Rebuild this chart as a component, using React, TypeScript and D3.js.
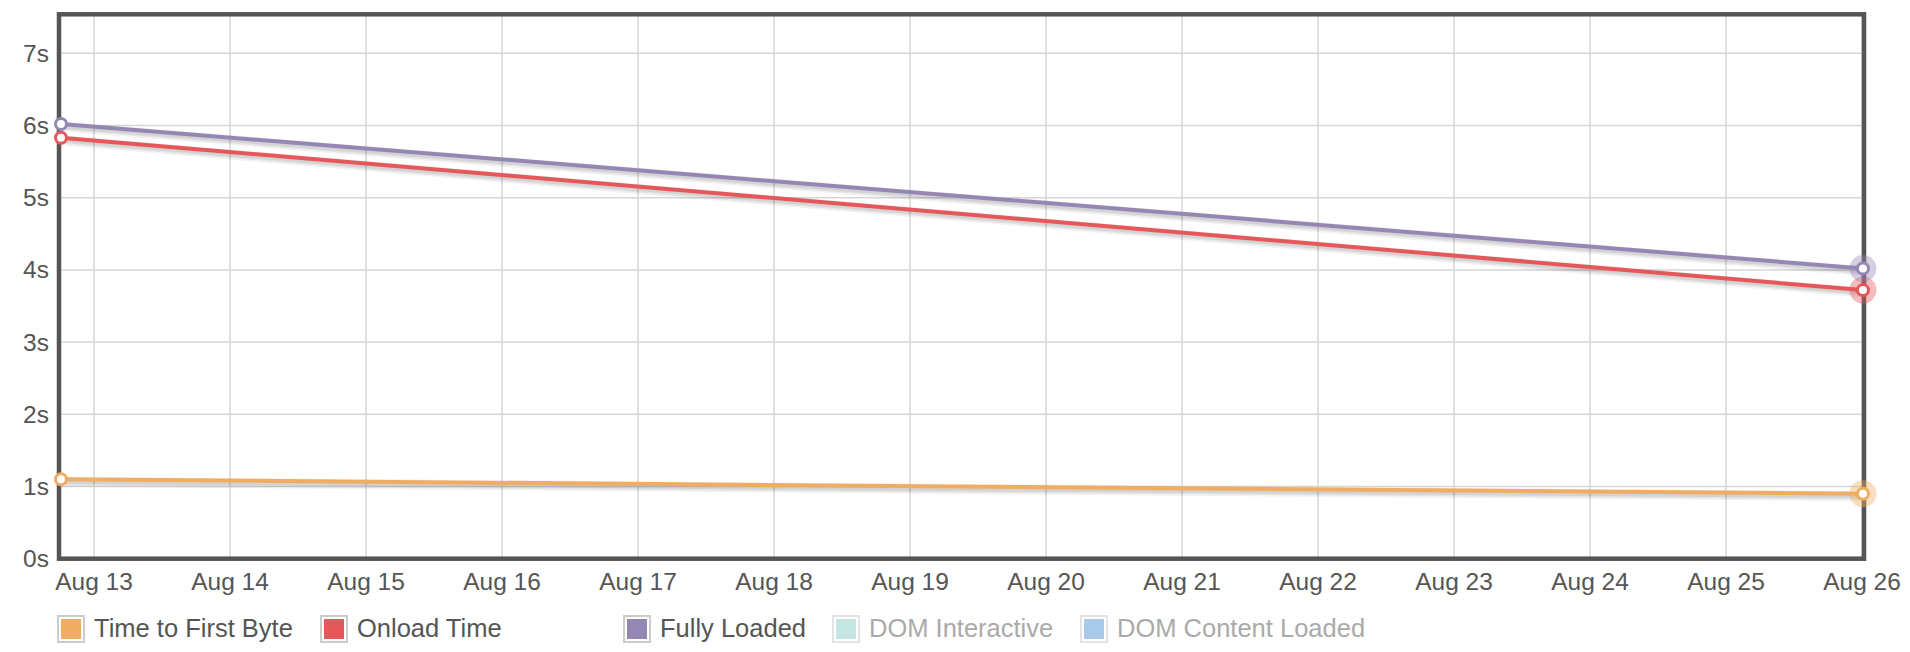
import React from "react";
import * as d3 from "d3";

const seriesNames = ["Time to First Byte", "Onload Time", "Fully Loaded", "DOM Interactive", "DOM Content Loaded"];
const seriesColors = ["#f0ac60", "#e4575a", "#9587b4", "#c4e7e4", "#a9c9e9"];
const seriesActive = [true, true, true, false, false];
const pointDates = [new Date(2019, 7, 12, 18, 10), new Date(2019, 7, 26, 0, 10)];
const ttfbValues = [1.1, 0.9];
const onloadValues = [5.83, 3.72];
const fullyLoadedValues = [6.02, 4.02];
const yTicks = [0, 1, 2, 3, 4, 5, 6, 7];
const xTickDays = [13, 14, 15, 16, 17, 18, 19, 20, 21, 22, 23, 24, 25, 26];

const W = 1910;
const H = 652;
const left = 59;
const right = 1864;
const top = 14.3;
const bottom = 558.7;
const FONT = "'Liberation Sans', Arial, Helvetica, sans-serif";

export default function App() {
  const x = d3
    .scaleTime()
    .domain([new Date(2019, 7, 12, 17, 49), new Date(2019, 7, 26, 0, 21)])
    .range([left, right]);
  const y = d3.scaleLinear().domain([0, 7.54]).range([bottom, top]);

  const lineGen = d3
    .line<[Date, number]>()
    .x((d) => x(d[0]))
    .y((d) => y(d[1]));

  const series = [
    { name: seriesNames[0], color: seriesColors[0], values: ttfbValues },
    { name: seriesNames[1], color: seriesColors[1], values: onloadValues },
    { name: seriesNames[2], color: seriesColors[2], values: fullyLoadedValues },
  ];

  const legendX = [57, 320, 623, 832, 1080];

  return (
    <svg
      width={W}
      height={H}
      style={{ position: "absolute", left: 0, top: 0, background: "#fff" }}
      fontFamily={FONT}
    >
      {/* grid */}
      {yTicks.filter((t) => t > 0).map((t) => (
        <line key={"gy" + t} x1={left} x2={right} y1={y(t)} y2={y(t)} stroke="#d6d6d6" strokeWidth={1.5} />
      ))}
      {xTickDays.map((d) => {
        const xx = x(new Date(2019, 7, d));
        return <line key={"gx" + d} x1={xx} x2={xx} y1={top} y2={bottom} stroke="#d6d6d6" strokeWidth={1.5} />;
      })}

      {/* shadows */}
      {series.map((s, i) => {
        const data = pointDates.map((dt, j) => [dt, s.values[j]] as [Date, number]);
        const p = lineGen(data) || "";
        return (
          <g key={"sh" + i} transform="translate(1,2.5)" fill="none" strokeLinecap="round">
            <path d={p} stroke="#000" strokeOpacity={0.05} strokeWidth={10} />
            <path d={p} stroke="#000" strokeOpacity={0.06} strokeWidth={7} />
            <path d={p} stroke="#000" strokeOpacity={0.07} strokeWidth={4} />
          </g>
        );
      })}

      {/* frame */}
      <rect x={left} y={top} width={right - left} height={bottom - top} fill="none" stroke="#555" strokeWidth={4.5} />

      {/* lines */}
      {series.map((s, i) => {
        const data = pointDates.map((dt, j) => [dt, s.values[j]] as [Date, number]);
        return <path key={"l" + i} d={lineGen(data) || ""} fill="none" stroke={s.color} strokeWidth={4} />;
      })}

      {/* markers */}
      {series.map((s, i) => {
        const x0 = x(pointDates[0]);
        const x1 = x(pointDates[1]);
        return (
          <g key={"m" + i}>
            <circle cx={x0} cy={y(s.values[0])} r={5.5} fill="#fff" stroke={s.color} strokeWidth={3} />
            <circle cx={x1} cy={y(s.values[1])} r={13.5} fill={s.color} fillOpacity={0.4} />
            <circle cx={x1} cy={y(s.values[1])} r={5.5} fill="#fff" stroke={s.color} strokeWidth={3} />
          </g>
        );
      })}

      {/* y axis labels */}
      {yTicks.map((t) => (
        <text key={"yt" + t} x={49} y={y(t) + 8.5} textAnchor="end" fontSize={24.5} fill="#555">
          {t + "s"}
        </text>
      ))}

      {/* x axis labels */}
      {xTickDays.map((d) => (
        <text key={"xt" + d} x={x(new Date(2019, 7, d))} y={590} textAnchor="middle" fontSize={24.5} fill="#555">
          {d3.timeFormat("%b %-d")(new Date(2019, 7, d))}
        </text>
      ))}

      {/* legend */}
      {seriesNames.map((n, i) => (
        <g key={"lg" + i} transform={`translate(${legendX[i]},615)`}>
          <rect x={1} y={1} width={26} height={26} fill="#fff" stroke={seriesActive[i] ? "#cccccc" : "#e3e3e3"} strokeWidth={2} />
          <rect x={4} y={4} width={20} height={20} fill={seriesColors[i]} />
          <text x={37} y={22} fontSize={25.5} fill={seriesActive[i] ? "#555" : "#aaa"}>
            {n}
          </text>
        </g>
      ))}
    </svg>
  );
}
